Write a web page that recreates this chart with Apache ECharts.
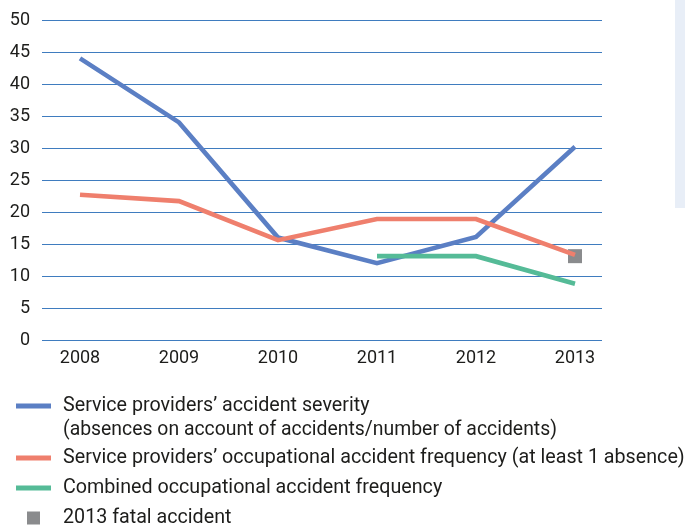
<!DOCTYPE html>
<html>
<head>
<meta charset="utf-8">
<style>
  html, body { margin: 0; padding: 0; background: #ffffff; }
  #chart { width: 685px; height: 526px; }
</style>
<script src="https://cdn.jsdelivr.net/npm/echarts@6/dist/echarts.min.js"></script>
</head>
<body>
<div id="chart"></div>
<script>
// Years on the horizontal axis
const years = ['2008', '2009', '2010', '2011', '2012', '2013'];

// Service providers' accident severity
const severity = [44, 34, 16, 12, 16.1, 30.2];
// Service providers' occupational accident frequency
const providerFrequency = [22.7, 21.7, 15.6, 18.9, 18.9, 13.3];
// Combined occupational accident frequency (from 2011)
const combinedFrequency = [null, null, null, 13.1, 13.1, 8.8];
// Fatal accident marker
const fatal = [null, null, null, null, null, 13.1];

// Value axis ticks
const yMin = 0, yMax = 50, yStep = 5;

const names = [
  'Service providers\u2019 accident severity',
  'Service providers\u2019 occupational accident frequency (at least 1 absence)',
  'Combined occupational accident frequency',
  '2013 fatal accident'
];
const severityNote = '(absences on account of accidents/number of accidents)';

const fontFamily = 'Roboto, "Liberation Sans", sans-serif';
const textColor = '#1d1d1b';
const legendFontSize = 19.7;

const chart = echarts.init(document.getElementById('chart'), null, { renderer: 'canvas' });

const lineSeries = (name, data, color) => ({
  name: name,
  type: 'line',
  xAxisIndex: 1,
  yAxisIndex: 1,
  data: data,
  symbol: 'none',
  connectNulls: false,
  lineStyle: { color: color, width: 4.6, cap: 'butt', join: 'miter' },
  itemStyle: { color: color },
  emphasis: { disabled: true },
  silent: true
});

const legendText = {
  color: textColor, fontSize: legendFontSize, fontFamily: fontFamily,
  lineHeight: 24, padding: [0, 0, 0, 7]
};

const legendBase = {
  orient: 'vertical',
  left: 16,
  padding: 0,
  itemWidth: 35,
  itemHeight: 5,
  icon: 'rect',
  selectedMode: false,
  textStyle: legendText
};

chart.setOption({
  animation: false,
  backgroundColor: '#ffffff',
  graphic: [
    {
      type: 'rect',
      shape: { x: 675, y: 0, width: 10, height: 208 },
      style: { fill: '#e8eef7' },
      silent: true
    },
    {
      // second line of the severity legend entry
      type: 'text',
      left: 63, top: 418,
      style: {
        text: severityNote,
        fill: textColor,
        font: '19.4px ' + fontFamily,
        lineHeight: 24
      },
      silent: true
    }
  ],
  grid: [
    { left: 42, right: 83, top: 20, bottom: 186 },
    { left: 80, right: 110, top: 20, bottom: 186 }
  ],
  xAxis: [
    { type: 'category', gridIndex: 0, show: false, data: years },
    {
      type: 'category', gridIndex: 1, data: years, boundaryGap: false,
      axisLine: { show: false }, axisTick: { show: false },
      axisLabel: { color: textColor, fontSize: 18, fontFamily: fontFamily, margin: 9 }
    }
  ],
  yAxis: [
    {
      type: 'value', gridIndex: 0, min: yMin, max: yMax, interval: yStep,
      axisLine: { show: false }, axisTick: { show: false },
      axisLabel: { color: textColor, fontSize: 18, fontFamily: fontFamily, margin: 12 },
      splitLine: { lineStyle: { color: '#3f7cbf', width: 1 } }
    },
    {
      type: 'value', gridIndex: 1, min: yMin, max: yMax, interval: yStep,
      show: false, splitLine: { show: false }
    }
  ],
  legend: [
    Object.assign({}, legendBase, { top: 394, data: [names[0]] }),
    Object.assign({}, legendBase, { top: 446, itemGap: 6, data: [names[1], names[2]] }),
    Object.assign({}, legendBase, {
      top: 506,
      left: 27,
      itemWidth: 13,
      itemHeight: 13,
      data: [names[3]],
      textStyle: Object.assign({}, legendText, { padding: [0, 0, 0, 18] })
    })
  ],
  series: [
    lineSeries(names[0], severity, '#5b7fc4'),
    lineSeries(names[1], providerFrequency, '#ef7f6d'),
    lineSeries(names[2], combinedFrequency, '#55bb97'),
    {
      name: names[3],
      type: 'scatter',
      xAxisIndex: 1,
      yAxisIndex: 1,
      data: fatal,
      symbol: 'rect',
      symbolSize: 14,
      itemStyle: { color: '#6d6e70' },
      silent: true
    }
  ]
});
</script>
</body>
</html>
